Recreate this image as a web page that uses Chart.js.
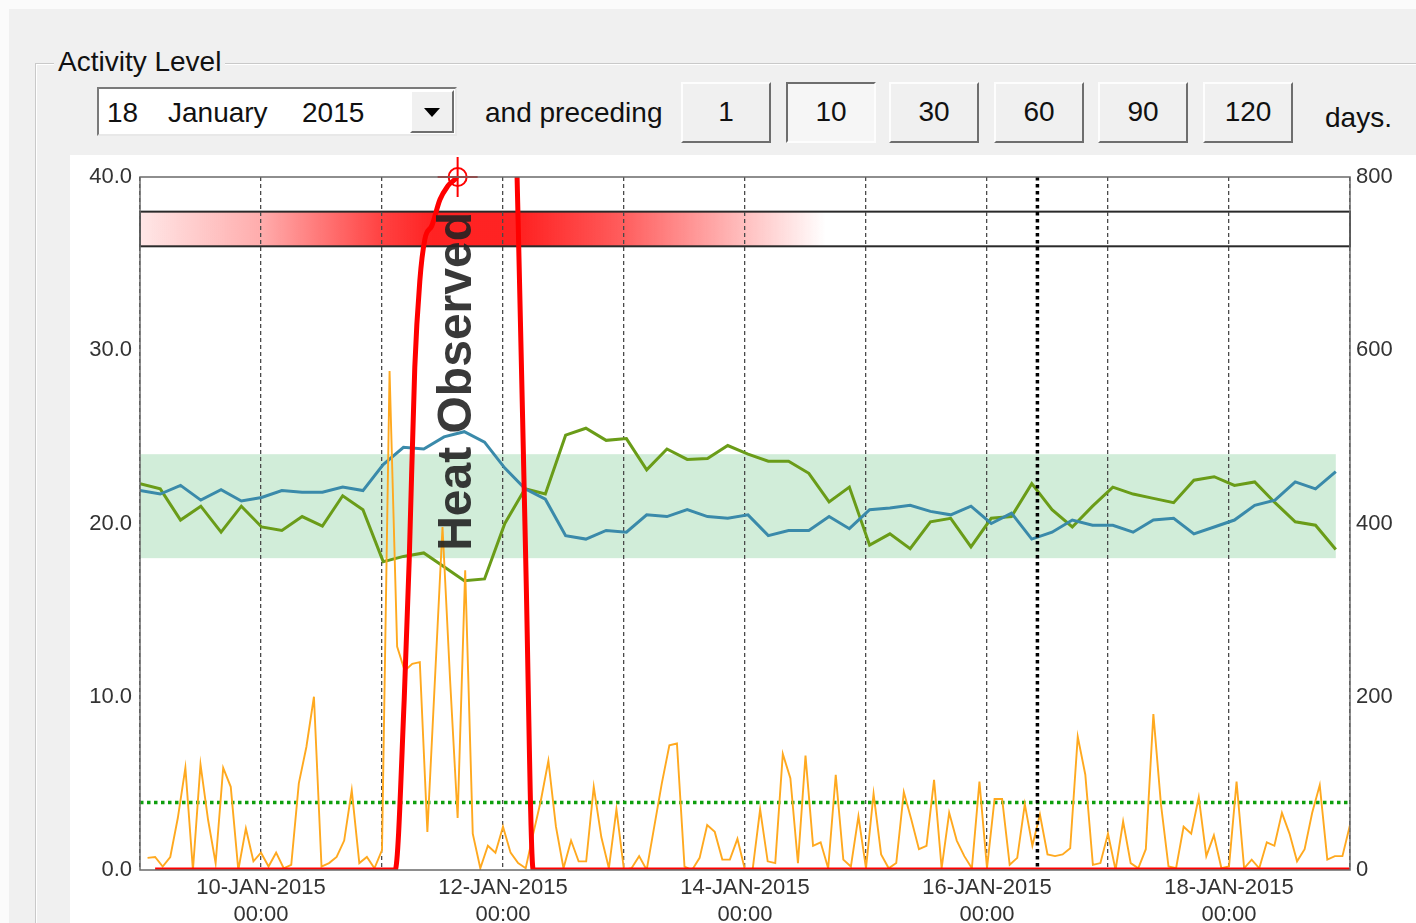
<!DOCTYPE html>
<html>
<head>
<meta charset="utf-8">
<script src="https://cdn.jsdelivr.net/npm/chart.js@4"></script>
<style>
  body { margin: 0; width: 1416px; height: 923px; overflow: hidden; background: #fbfbfb;
         font-family: "Liberation Sans", Arial, sans-serif; color: #111; }
  .abs { position: absolute; }
  #panel { left: 9px; top: 9px; right: 0; bottom: 0; background: #f0f0f0; }
  #group { left: 35px; top: 63px; width: 1500px; height: 900px;
           border-left: 1px solid #c9c9c9; border-top: 1px solid #c9c9c9;
           box-shadow: inset 1px 1px 0 #fff; }
  #legend { left: 54px; top: 45px; padding: 0 4px; background: #f0f0f0; font-size: 28px; line-height: 34px; }
  #combo { left: 97px; top: 87px; width: 360px; height: 49px; box-sizing: border-box; background: #fff;
           border: 2px solid; border-color: #7a7a7a #e8e8e8 #e8e8e8 #7a7a7a; }
  .ctext { top: 6px; font-size: 28px; line-height: 36px; }
  #drop { left: 311px; top: 1px; width: 44px; height: 43px; box-sizing: border-box; background: #f0f0f0;
          border: 2px solid; border-color: #fff #6e6e6e #6e6e6e #fff; }
  #drop::after { content: ""; position: absolute; left: 12px; top: 16px;
                 border-left: 8px solid transparent; border-right: 8px solid transparent; border-top: 9px solid #000; }
  .lbl { font-size: 28px; line-height: 36px; }
  .btn { top: 82px; width: 90px; height: 61px; box-sizing: border-box; background: #f0f0f0;
         border: 2px solid; border-color: #fdfdfd #6e6e6e #6e6e6e #fdfdfd;
         font-size: 28px; line-height: 56px; text-align: center; }
  .btn.down { border-color: #6e6e6e #fdfdfd #fdfdfd #6e6e6e; background: #f6f6f6; }
  #chartBox { left: 70px; top: 155px; width: 1346px; height: 768px; background: #fff; }
</style>
</head>
<body>
<div id="panel" class="abs"></div>
<div id="group" class="abs"></div>
<div id="legend" class="abs">Activity Level</div>
<div id="combo" class="abs">
  <span class="abs ctext" style="left:8px">18</span>
  <span class="abs ctext" style="left:69px">January</span>
  <span class="abs ctext" style="left:203px">2015</span>
  <div id="drop" class="abs"></div>
</div>
<div class="abs lbl" style="left:485px;top:95px">and preceding</div>
<div class="abs btn" style="left:681px">1</div>
<div class="abs btn down" style="left:786px">10</div>
<div class="abs btn" style="left:889px">30</div>
<div class="abs btn" style="left:994px">60</div>
<div class="abs btn" style="left:1098px">90</div>
<div class="abs btn" style="left:1203px">120</div>
<div class="abs lbl" style="left:1325px;top:100px">days.</div>
<div id="chartBox" class="abs"><canvas id="activityChart" width="1346" height="768"></canvas></div>

<script>
// time axis: hours since 09-JAN-2015 00:00
const tickHours = [24, 72, 120, 168, 216];
const tickDates = ["10-JAN-2015", "12-JAN-2015", "14-JAN-2015", "16-JAN-2015", "18-JAN-2015"];
const tickTimes = ["00:00", "00:00", "00:00", "00:00", "00:00"];

// activity level, one sample every 1.5 h
const activityLevel = [
  0.7, 0.75, 0.2, 0.75, 3.0, 5.9, 0, 6.1, 2.9, 0.4,
  5.9, 4.8, 0, 2.4, 0.5, 1.0, 0.2, 1.0, 0.1, 0.3,
  5.0, 7.1, 10.0, 0.2, 0.4, 0.75, 1.7, 4.6, 0.4, 0.75,
  0.1, 1.15, 28.8, 12.9, 11.5, 11.9, 12.0, 2.2, 11.0, 19.8,
  11.0, 3.0, 17.3, 2.1, 0.1, 1.4, 1.0, 2.5, 1.0, 0.4,
  0.1, 2.1, 4.0, 6.3, 2.5, 0.1, 1.7, 0.5, 0.5, 4.8,
  1.9, 0.1, 3.5, 0, 0.1, 0.8, 0, 2.5, 5.0, 7.2,
  7.3, 0.2, 0, 0.7, 2.6, 2.2, 0.6, 0.6, 1.8, 0,
  0, 3.5, 0.5, 0.4, 6.7, 5.3, 0.4, 6.6, 1.4, 1.6,
  0.1, 5.5, 0.6, 0.2, 3.1, 0.1, 4.4, 0.9, 0.1, 0.4,
  4.5, 2.9, 1.2, 1.4, 5.2, 0.1, 3.3, 1.7, 0.8, 0.1,
  5.1, 0.1, 4.1, 4.1, 0.3, 0.7, 3.8, 1.4, 3.2, 0.9,
  0.8, 0.9, 1.25, 7.7, 5.5, 0.3, 0.4, 2.1, 0, 2.8,
  0.4, 0.1, 1.2, 9.0, 3.8, 0.2, 0.1, 2.5, 2.1, 4.2,
  0.8, 2.0, 0.1, 0.2, 5.1, 0.1, 0.6, 0.1, 1.6, 1.4,
  3.3, 2.1, 0.5, 1.2, 3.3, 4.9, 0.6, 0.8, 0.8, 2.6
];
const activityStep = 1.5;

// trend lines, one sample every ~4 h
const trendBlue = [
  21.9, 21.7, 22.2, 21.35, 21.95, 21.3, 21.5, 21.9, 21.8, 21.8,
  22.1, 21.9, 23.4, 24.4, 24.3, 25.0, 25.3, 24.7, 23.2, 22.0,
  21.4, 19.3, 19.1, 19.6, 19.5, 20.5, 20.4, 20.8, 20.4, 20.3,
  20.5, 19.3, 19.6, 19.6, 20.4, 19.7, 20.8, 20.9, 21.05, 20.7,
  20.5, 21.0, 20.0, 20.6, 19.1, 19.5, 20.2, 19.9, 19.9, 19.5,
  20.2, 20.3, 19.4, 19.8, 20.2, 21.05, 21.35, 22.4, 22.0, 23.0
];
const trendGreen = [
  22.3, 22.0, 20.2, 21.0, 19.5, 21.0, 19.8, 19.6, 20.4, 19.85,
  21.6, 20.8, 17.8, 18.1, 18.3, 17.5, 16.7, 16.8, 20.0, 22.0,
  21.7, 25.1, 25.5, 24.8, 24.9, 23.1, 24.3, 23.7, 23.75, 24.5,
  24.0, 23.6, 23.6, 22.9, 21.25, 22.1, 18.75, 19.4, 18.55, 20.1,
  20.3, 18.65, 20.3, 20.4, 22.3, 20.8, 19.8, 21.0, 22.1, 21.7,
  21.45, 21.2, 22.5, 22.7, 22.2, 22.4, 21.2, 20.1, 19.9, 18.5
];
const trendStep = 4.02;

// heat index curve
const heatHours  = [3, 50.6, 52.4, 53.4, 54.5, 55.5, 56.5, 57.9, 59.5, 61.1, 63, 66, 70, 74, 75, 76.5, 78, 240];
const heatValues = [0, 0, 9.8, 17.9, 29.0, 34.0, 36.4, 37.2, 38.7, 39.5, 40.1, 43, 44, 47, 37.5, 18, 0, 0];

const heatMarkHour = 63;
const heatMarkValue = 40;
const heatLabel = "Heat Observed";
const heatLabelValue = 28.2;
const markerHour = 178;          // 16-JAN 10:00 dotted marker
const thresholdValue = 3.9;
const normalBand = [18, 24];
const heatBar = [36, 38];
const heatBarStops = [[0, 0.1], [24, 0.35], [48, 0.8], [58, 0.93], [76, 0.93], [96, 0.68], [118, 0.3], [136, 0]];

const toPoints = (hours, values) => values.map((v, i) => ({ x: hours[i], y: v }));
const activityHours = activityLevel.map((v, i) => (i + 1) * activityStep);
const trendHours = trendBlue.map((v, i) => i * trendStep);

const chartDecor = {
  id: "chartDecor",
  beforeDraw(chart) {
    const { ctx, chartArea: a, scales: { x, y } } = chart;
    ctx.save();
    // normal range band
    const bx0 = x.getPixelForValue(trendHours[0]);
    const bx1 = x.getPixelForValue(trendHours[trendHours.length - 1]);
    const by0 = y.getPixelForValue(normalBand[1]);
    const by1 = y.getPixelForValue(normalBand[0]);
    ctx.fillStyle = "rgba(140,210,160,0.40)";
    ctx.fillRect(bx0, by0, bx1 - bx0, by1 - by0);
    // heat probability bar
    const ty = y.getPixelForValue(heatBar[1]);
    const hy = y.getPixelForValue(heatBar[0]) - ty;
    const g = ctx.createLinearGradient(a.left, 0, a.right, 0);
    heatBarStops.forEach(([h, alpha]) => {
      g.addColorStop((x.getPixelForValue(h) - a.left) / a.width, "rgba(255,18,18," + alpha + ")");
    });
    ctx.fillStyle = g;
    ctx.fillRect(a.left, ty, a.width, hy);
    ctx.strokeStyle = "#2a2a2a";
    ctx.lineWidth = 2;
    ctx.strokeRect(a.left, ty, a.width, hy);
    ctx.restore();
  },
  afterDatasetsDraw(chart) {
    const { ctx, chartArea: a, scales: { x, y } } = chart;
    ctx.save();
    // selected day marker
    const mx = x.getPixelForValue(markerHour);
    ctx.strokeStyle = "#000";
    ctx.lineWidth = 3.5;
    ctx.setLineDash([3.5, 3.5]);
    ctx.beginPath();
    ctx.moveTo(mx, a.top);
    ctx.lineTo(mx, a.bottom);
    ctx.stroke();
    ctx.setLineDash([]);
    // heat label
    ctx.translate(x.getPixelForValue(heatMarkHour), y.getPixelForValue(heatLabelValue));
    ctx.rotate(-Math.PI / 2);
    ctx.font = 'bold 48px "Liberation Sans", Arial, sans-serif';
    ctx.textAlign = "center";
    ctx.textBaseline = "middle";
    ctx.fillStyle = "rgba(35,35,35,0.9)";
    ctx.fillText(heatLabel, 0, 0);
    ctx.restore();
    // plot frame
    ctx.save();
    ctx.strokeStyle = "#6a6a6a";
    ctx.lineWidth = 1.5;
    ctx.strokeRect(a.left, a.top, a.width, a.height);
    ctx.restore();
  }
};

const tickFont = { family: '"Liberation Sans", Arial, sans-serif', size: 22 };

new Chart(document.getElementById("activityChart"), {
  type: "line",
  data: {
    datasets: [
      {
        label: "mark ring",
        data: [{ x: heatMarkHour, y: heatMarkValue }],
        showLine: false, clip: false,
        pointStyle: "circle", pointRadius: 9,
        pointBorderColor: "#ff0000", pointBorderWidth: 2, pointBackgroundColor: "rgba(0,0,0,0)"
      },
      {
        label: "mark cross",
        data: [{ x: heatMarkHour, y: heatMarkValue }],
        showLine: false, clip: false,
        pointStyle: "cross", pointRadius: 20,
        pointBorderColor: "#ff0000", pointBorderWidth: 2
      },
      {
        label: "Heat",
        data: toPoints(heatHours, heatValues),
        borderColor: "#ff0000", borderWidth: 5, pointRadius: 0,
        cubicInterpolationMode: "monotone"
      },
      {
        label: "Activity",
        data: toPoints(activityHours, activityLevel),
        borderColor: "#ffa91f", borderWidth: 1.9, pointRadius: 0
      },
      {
        label: "Trend blue",
        data: toPoints(trendHours, trendBlue),
        borderColor: "#3a8aaa", borderWidth: 3, pointRadius: 0
      },
      {
        label: "Trend green",
        data: toPoints(trendHours, trendGreen),
        borderColor: "#6a9c18", borderWidth: 3, pointRadius: 0
      },
      {
        label: "Threshold",
        data: [{ x: 0, y: thresholdValue }, { x: 240, y: thresholdValue }],
        borderColor: "#0e9e0e", borderWidth: 3.5, borderDash: [3.5, 3.5], pointRadius: 0
      }
    ]
  },
  options: {
    responsive: false,
    animation: false,
    events: [],
    layout: { padding: { top: 22, left: 0, right: 0, bottom: 0 } },
    plugins: { legend: { display: false }, tooltip: { enabled: false } },
    scales: {
      x: {
        type: "linear", min: 0, max: 240,
        afterFit: (s) => { s.height = 53; },
        ticks: {
          stepSize: 24, autoSkip: false, maxRotation: 0, padding: 5,
          font: tickFont, color: "#333",
          callback: (v) => {
            const i = tickHours.indexOf(v);
            return i < 0 ? "" : [tickDates[i], tickTimes[i]];
          }
        },
        grid: { color: "#4a4a4a", lineWidth: 1.3, drawTicks: false },
        border: { display: false, dash: [4, 3] }
      },
      y: {
        position: "left", min: 0, max: 40,
        afterFit: (s) => { s.width = 70; },
        ticks: { stepSize: 10, padding: 8, font: tickFont, color: "#333", callback: (v) => v.toFixed(1) },
        grid: { display: false, drawTicks: false },
        border: { display: false }
      },
      y2: {
        position: "right", min: 0, max: 800,
        afterFit: (s) => { s.width = 66; },
        ticks: { stepSize: 200, padding: 6, font: tickFont, color: "#333" },
        grid: { display: false, drawTicks: false },
        border: { display: false }
      }
    }
  },
  plugins: [chartDecor]
});
</script>
</body>
</html>
